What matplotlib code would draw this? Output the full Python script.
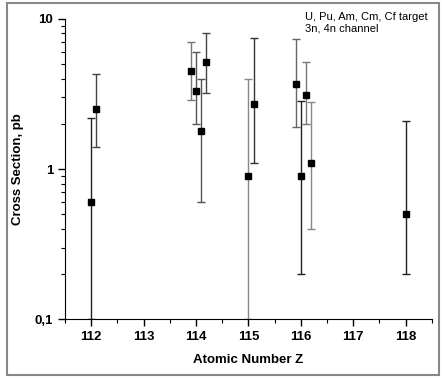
import matplotlib
matplotlib.use("Agg")
import matplotlib.pyplot as plt
import matplotlib.ticker as mticker
from matplotlib.patches import Rectangle

plt.rcParams["font.family"] = ["Liberation Sans", "DejaVu Sans"]

# atomic number Z (slightly offset for overlapping points)
z = [112.0, 112.1, 113.9, 114.0, 114.1, 114.2, 115.0, 115.1,
     115.9, 116.0, 116.1, 116.2, 118.0]
sigma = [0.6, 2.5, 4.5, 3.3, 1.8, 5.2, 0.9, 2.7, 3.7, 0.9, 3.1, 1.1, 0.5]
upper = [2.2, 4.3, 7.0, 6.0, 4.0, 8.0, 4.0, 7.5, 7.3, 2.85, 5.2, 2.8, 2.1]
lower = [0.1, 1.4, 2.9, 2.0, 0.6, 3.2, 0.1, 1.1, 1.9, 0.2, 2.0, 0.4, 0.2]
bar_colors = ["#222222", "#444444", "#777777", "#555555", "#555555", "#444444",
              "#888888", "#333333", "#666666", "#222222", "#777777", "#888888", "#222222"]

fig = plt.figure(figsize=(4.42, 3.79), dpi=100)
ax = fig.add_axes([0.147, 0.158, 0.83, 0.792])

for zi, s, up, lo, c in zip(z, sigma, upper, lower, bar_colors):
    ax.errorbar([zi], [s], yerr=[[s - lo], [up - s]], fmt="s", color="black",
                ecolor=c, elinewidth=1.0, capsize=3, capthick=1.0, markersize=4.5)

ax.set_yscale("log")
ax.set_ylim(0.1, 10)
ax.set_xlim(111.5, 118.5)
ax.xaxis.set_major_locator(mticker.MultipleLocator(1))
ax.xaxis.set_minor_locator(mticker.MultipleLocator(0.5))
ax.yaxis.set_major_locator(mticker.FixedLocator([0.1, 1, 10]))
ax.yaxis.set_major_formatter(mticker.FixedFormatter(["0,1", "1", "10"]))
ax.yaxis.set_minor_locator(mticker.LogLocator(base=10, subs=range(2, 10)))
ax.yaxis.set_minor_formatter(mticker.NullFormatter())

ax.tick_params(which="major", direction="out", length=5, width=1, labelsize=9.5)
ax.tick_params(which="minor", direction="out", length=3, width=0.8)
for lbl in ax.get_xticklabels() + ax.get_yticklabels():
    lbl.set_fontweight("bold")

ax.spines[["top", "right"]].set_visible(False)
ax.set_xlabel("Atomic Number Z", fontsize=9.5, fontweight="bold", labelpad=8)
ax.set_ylabel("Cross Section, pb", fontsize=9.5, fontweight="bold", labelpad=8)

ax.text(0.654, 1.023, "U, Pu, Am, Cm, Cf target\n3n, 4n channel",
        transform=ax.transAxes, fontsize=8, va="top", ha="left", linespacing=1.15)

fig.patches.append(Rectangle((0.016, 0.01), 0.978, 0.982, transform=fig.transFigure,
                             fill=False, edgecolor="#888888", linewidth=1.5))

fig.savefig("out.png", dpi=100)
